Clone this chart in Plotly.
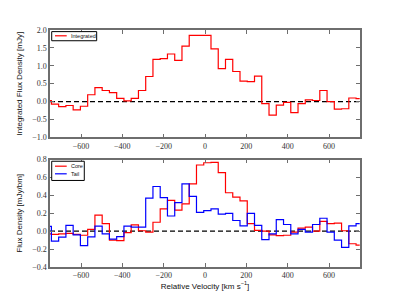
import plotly.graph_objects as go

# Channel velocities (km/s), bin centres
velocity = [-760.8, -725.7, -690.6, -655.5, -620.4, -585.3, -550.2, -515.1, -480.0, -444.9,
            -409.8, -374.7, -339.6, -304.5, -269.4, -234.3, -199.2, -164.1, -129.0, -93.9,
            -58.8, -23.7, 11.4, 46.5, 81.6, 116.7, 151.8, 186.9, 222.0, 257.1,
            292.2, 327.3, 362.4, 397.5, 432.6, 467.7, 502.8, 537.9, 573.0, 608.1,
            643.2, 678.3, 713.4, 748.5]

# Integrated flux density [mJy]
integrated = [0.03, -0.07, -0.14, -0.11, -0.23, -0.13, 0.19, 0.39, 0.31, 0.25,
              0.09, 0.02, 0.09, 0.31, 0.70, 1.18, 1.20, 1.33, 1.15, 1.55,
              1.85, 1.85, 1.85, 1.47, 0.92, 1.18, 0.84, 0.57, 0.56, 0.71,
              -0.06, -0.38, -0.10, -0.02, -0.31, -0.06, 0.05, 0.03, 0.31, 0.00,
              -0.21, -0.20, 0.10, 0.08]

# Core flux density [mJy/bm]
core = [-0.03, -0.035, -0.03, -0.025, -0.035, -0.045, 0.02, 0.18, 0.085, -0.10,
        -0.105, -0.015, 0.07, 0.005, -0.01, 0.10, 0.25, 0.345, 0.235, 0.305,
        0.53, 0.74, 0.765, 0.77, 0.655, 0.43, 0.38, 0.34, 0.085, 0.01,
        0.0, -0.04, -0.05, -0.045, -0.01, 0.035, 0.045, 0.0, 0.11, 0.085,
        0.09, 0.005, -0.14, -0.155]

# Tail flux density [mJy/bm]
tail = [0.055, -0.11, -0.065, 0.066, -0.04, -0.16, -0.063, 0.057, -0.03, -0.088,
        -0.06, 0.056, 0.045, 0.045, 0.37, 0.50, 0.375, 0.17, 0.32, 0.53,
        0.39, 0.21, 0.23, 0.25, 0.19, 0.20, 0.12, 0.06, 0.20, 0.065,
        -0.095, -0.03, 0.13, 0.075, -0.03, 0.02, -0.01, 0.075, 0.145, -0.01,
        -0.10, -0.18, 0.06, 0.085]

x_ticks = [-600, -400, -200, 0, 200, 400, 600]
top_y_ticks = [-1.0, -0.5, 0.0, 0.5, 1.0, 1.5, 2.0]
bottom_y_ticks = [-0.4, -0.2, 0.0, 0.2, 0.4, 0.6, 0.8]

SERIF = "Liberation Serif"
SANS = "Liberation Sans"
RED = "#ff0000"
BLUE = "#0000ff"
LW = 1.2

fig = go.Figure()
fig.add_trace(go.Scatter(x=velocity, y=integrated, mode="lines", name="Integrated",
                         line=dict(color=RED, width=LW, shape="hvh"),
                         xaxis="x", yaxis="y", showlegend=False))
fig.add_trace(go.Scatter(x=velocity, y=core, mode="lines", name="Core",
                         line=dict(color=RED, width=LW, shape="hvh"),
                         xaxis="x2", yaxis="y2", showlegend=False))
fig.add_trace(go.Scatter(x=velocity, y=tail, mode="lines", name="Tail",
                         line=dict(color=BLUE, width=LW, shape="hvh"),
                         xaxis="x2", yaxis="y2", showlegend=False))

axis_common = dict(showline=True, mirror="ticks", linecolor="#6e6e6e", linewidth=1.5,
                   ticks="inside", ticklen=4, tickwidth=1, tickcolor="#6e6e6e",
                   showgrid=False, zeroline=False,
                   tickfont=dict(family=SERIF, size=8, color="#333333"))

title_font = dict(family=SANS, size=8, color="#111111")

# Legend boxes drawn manually (small matplotlib-style legends)
shapes = [
    dict(type="line", xref="x domain", yref="y", x0=0, x1=1, y0=0, y1=0, layer="below",
         line=dict(color="black", width=1.2, dash="5px,3px")),
    dict(type="line", xref="x2 domain", yref="y2", x0=0, x1=1, y0=0, y1=0, layer="below",
         line=dict(color="black", width=1.2, dash="5px,3px")),
    # top legend
    dict(type="rect", xref="x domain", yref="y domain", x0=0.0055, x1=0.1506, y0=0.90, y1=0.985,
         line=dict(color="black", width=1), fillcolor="white", layer="above"),
    dict(type="line", xref="x domain", yref="y domain", x0=0.0161, x1=0.0539, y0=0.946, y1=0.946,
         line=dict(color=RED, width=LW), layer="above"),
    # bottom legend
    dict(type="rect", xref="x2 domain", yref="y2 domain", x0=0.0055, x1=0.1106, y0=0.806, y1=0.985,
         line=dict(color="black", width=1), fillcolor="white", layer="above"),
    dict(type="line", xref="x2 domain", yref="y2 domain", x0=0.0161, x1=0.0539, y0=0.939, y1=0.939,
         line=dict(color=RED, width=LW), layer="above"),
    dict(type="line", xref="x2 domain", yref="y2 domain", x0=0.0161, x1=0.0539, y0=0.868, y1=0.868,
         line=dict(color=BLUE, width=LW), layer="above"),
]

legend_font = dict(family=SANS, size=5.5, color="#111111")
annotations = [
    dict(text="Integrated", xref="x domain", yref="y domain", x=0.0645, y=0.946,
         xanchor="left", yanchor="middle", showarrow=False, font=legend_font, borderpad=0),
    dict(text="Core", xref="x2 domain", yref="y2 domain", x=0.0645, y=0.939,
         xanchor="left", yanchor="middle", showarrow=False, font=legend_font, borderpad=0),
    dict(text="Tail", xref="x2 domain", yref="y2 domain", x=0.0645, y=0.868,
         xanchor="left", yanchor="middle", showarrow=False, font=legend_font, borderpad=0),
]

fig.update_layout(
    width=400, height=300,
    margin=dict(l=50, r=40, t=30, b=31),
    paper_bgcolor="white", plot_bgcolor="white",
    showlegend=False,
    xaxis=dict(axis_common, domain=[0, 1], anchor="y", range=[-750, 750], tickvals=x_ticks),
    yaxis=dict(axis_common, domain=[0.547, 1], anchor="x", range=[-1.0, 2.0],
               tickvals=top_y_ticks, tickformat=".1f",
               title=dict(text="Integrated Flux Density [mJy]", standoff=8, font=title_font)),
    xaxis2=dict(axis_common, domain=[0, 1], anchor="y2", range=[-750, 750], tickvals=x_ticks,
                title=dict(text="Relative Velocity [km s<sup>\u22121</sup>]", standoff=2,
                           font=title_font)),
    yaxis2=dict(axis_common, domain=[0, 0.453], anchor="x2", range=[-0.4, 0.8],
                tickvals=bottom_y_ticks, tickformat=".1f",
                title=dict(text="Flux Density [mJy/bm]", standoff=8, font=title_font)),
    shapes=shapes,
    annotations=annotations,
)

fig.write_html("out.html", config={"displayModeBar": False},
               post_script="document.body.style.margin='0';")
